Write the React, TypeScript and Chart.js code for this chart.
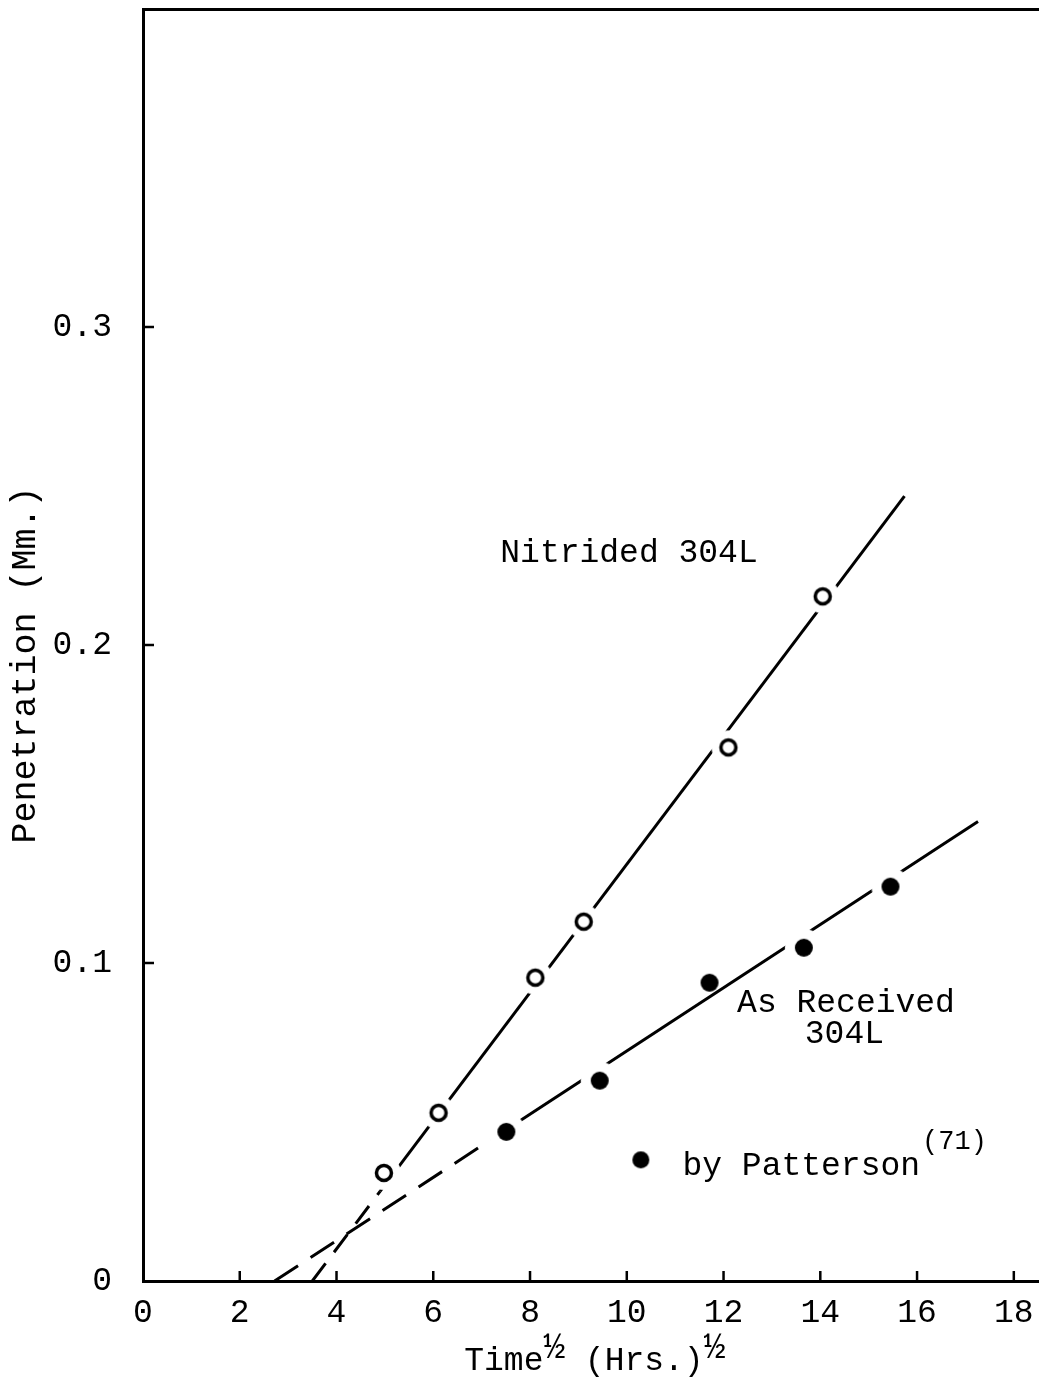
import { useEffect, useRef } from 'react';
import { Chart, registerables } from 'chart.js';

Chart.register(...registerables);

// Measured penetration, nitrided 304L (open circles)
const nitridedX = [4.98, 6.11, 8.11, 9.11, 12.1, 14.05];
const nitridedY = [0.034, 0.0529, 0.0954, 0.113, 0.1678, 0.2153];

// As-received 304L, by Patterson (filled circles)
const asReceivedX = [7.51, 9.44, 11.71, 13.66, 15.45];
const asReceivedY = [0.0469, 0.063, 0.0938, 0.1048, 0.124];

// Drawn-in trend lines: axis intercept, point where the dashes turn solid, end
const nitridedFitX = [3.5, 4.9, 15.74];
const nitridedFitY = [0, 0.0282, 0.2468];
const asReceivedFitX = [2.72, 7.5, 17.26];
const asReceivedFitY = [0, 0.0475, 0.1445];

// Key symbol beside "by Patterson"
const keyMarkerX = [10.29];
const keyMarkerY = [0.0381];

const xTickLabels = ['0', '2', '4', '6', '8', '10', '12', '14', '16', '18'];
const yTickLabels = ['0', '0.1', '0.2', '0.3'];

const MONO = '"Liberation Mono", "DejaVu Sans Mono", monospace';

const pts = (xs: number[], ys: number[]) => xs.map((x, i) => ({ x, y: ys[i] }));

// Marker images: a white halo opens a gap in the trend line around each symbol
function ringMarker(halo: number): HTMLCanvasElement {
  const size = halo * 2 + 2;
  const c = document.createElement('canvas');
  c.width = size;
  c.height = size;
  const g = c.getContext('2d')!;
  const m = size / 2;
  g.fillStyle = '#fff';
  g.beginPath();
  g.arc(m, m, halo, 0, Math.PI * 2);
  g.fill();
  g.strokeStyle = '#000';
  g.lineWidth = 3.5;
  g.beginPath();
  g.arc(m, m, 7.5, 0, Math.PI * 2);
  g.stroke();
  return c;
}

function dotMarker(halo: number, r: number): HTMLCanvasElement {
  const size = Math.max(halo, r) * 2 + 2;
  const c = document.createElement('canvas');
  c.width = size;
  c.height = size;
  const g = c.getContext('2d')!;
  const m = size / 2;
  if (halo > 0) {
    g.fillStyle = '#fff';
    g.beginPath();
    g.arc(m, m, halo, 0, Math.PI * 2);
    g.fill();
  }
  g.fillStyle = '#000';
  g.beginPath();
  g.arc(m, m, r, 0, Math.PI * 2);
  g.fill();
  return c;
}

// Remove the label-overflow padding Chart.js reserves at the ends of each axis
const noEndPadding = (s: any) => {
  s.paddingTop = 0;
  s.paddingBottom = 0;
  s.paddingLeft = 0;
  s.paddingRight = 0;
};

const innerTicks = {
  id: 'innerTicks',
  afterDraw(chart: any) {
    const { ctx, chartArea, scales } = chart;
    ctx.save();
    ctx.strokeStyle = '#000';
    ctx.lineWidth = 2.5;
    scales.x.ticks.forEach((t: any, i: number) => {
      if (!xTickLabels[i] || t.value === 0) return;
      const px = scales.x.getPixelForTick(i);
      ctx.beginPath();
      ctx.moveTo(px, chartArea.bottom);
      ctx.lineTo(px, chartArea.bottom - 10);
      ctx.stroke();
    });
    scales.y.ticks.forEach((t: any, i: number) => {
      if (!yTickLabels[i] || t.value === 0) return;
      const py = scales.y.getPixelForTick(i);
      ctx.beginPath();
      ctx.moveTo(chartArea.left, py);
      ctx.lineTo(chartArea.left + 11, py);
      ctx.stroke();
    });
    ctx.restore();
  },
};

const notes = [
  { text: 'Nitrided 304L', x: 7.385, y: 0.226 },
  { text: 'As Received', x: 12.28, y: 0.0847 },
  { text: '304L', x: 13.68, y: 0.0749 },
];

const textLayer = {
  id: 'textLayer',
  afterDraw(chart: any) {
    const { ctx, chartArea, scales } = chart;
    const sx = scales.x;
    const sy = scales.y;
    ctx.save();
    ctx.fillStyle = '#000';
    ctx.textBaseline = 'alphabetic';
    ctx.textAlign = 'left';

    ctx.font = `33px ${MONO}`;
    notes.forEach((n) => {
      ctx.fillText(n.text, sx.getPixelForValue(n.x), sy.getPixelForValue(n.y));
    });

    // key: "by Patterson" with superscript reference
    const kx = sx.getPixelForValue(11.15);
    const ky = sy.getPixelForValue(0.0334);
    ctx.font = `33px ${MONO}`;
    ctx.fillText('by Patterson', kx, ky);
    const kw = ctx.measureText('by Patterson').width;
    ctx.font = `27px ${MONO}`;
    ctx.fillText('(71)', kx + kw + 2, ky - 26);

    // x-axis title with superscript halves
    let tx = sx.getPixelForValue(6.64);
    const tb = chartArea.bottom + 89;
    const part = (s: string, size: number, dy: number) => {
      ctx.font = `${size}px ${MONO}`;
      ctx.fillText(s, tx, tb + dy);
      tx += ctx.measureText(s).width;
    };
    part('Time', 33, 0);
    part('\u00bd', 36, -12);
    part(' (Hrs.)', 33, 0);
    part('\u00bd', 36, -12);

    // y-axis title
    ctx.save();
    ctx.translate(35, (chartArea.top + chartArea.bottom) / 2 + 20);
    ctx.rotate(-Math.PI / 2);
    ctx.textAlign = 'center';
    ctx.font = `35px ${MONO}`;
    ctx.fillText('Penetration (Mm.)', 0, 0);
    ctx.restore();

    ctx.restore();
  },
};

export default function App() {
  const canvasRef = useRef<HTMLCanvasElement | null>(null);

  useEffect(() => {
    const canvas = canvasRef.current;
    if (!canvas) return;

    const ring = ringMarker(17);
    const dot = dotMarker(19, 9);
    const bareDot = dotMarker(0, 9);
    const keyDot = dotMarker(0, 8.5);

    const chart = new Chart(canvas, {
      type: 'scatter',
      data: {
        datasets: [
          {
            label: 'Nitrided 304L',
            data: pts(nitridedX, nitridedY),
            pointStyle: ring as any,
            order: 1,
          },
          {
            label: 'As Received 304L',
            data: pts(asReceivedX, asReceivedY),
            pointStyle: [dot, dot, bareDot, dot, dot] as any,
            order: 1,
          },
          {
            label: 'key',
            data: pts(keyMarkerX, keyMarkerY),
            pointStyle: keyDot as any,
            order: 1,
          },
          {
            label: 'Nitrided trend',
            data: pts(nitridedFitX, nitridedFitY),
            showLine: true,
            pointRadius: 0,
            borderColor: '#000',
            borderWidth: 3,
            segment: {
              borderDash: (ctx: any) => (ctx.p0DataIndex === 0 ? [22, 14] : undefined),
            },
            order: 2,
          },
          {
            label: 'As Received trend',
            data: pts(asReceivedFitX, asReceivedFitY),
            showLine: true,
            pointRadius: 0,
            borderColor: '#000',
            borderWidth: 3,
            segment: {
              borderDash: (ctx: any) => (ctx.p0DataIndex === 0 ? [28, 15] : undefined),
            },
            order: 2,
          },
        ],
      },
      options: {
        responsive: false,
        animation: false,
        layout: { padding: 0 },
        plugins: {
          legend: { display: false },
          tooltip: { enabled: false },
          title: { display: false },
        },
        scales: {
          x: {
            type: 'linear',
            position: 'bottom',
            min: 0,
            max: 18.5,
            afterFit: (s: any) => {
              s.height = 103;
              noEndPadding(s);
            },
            grid: { display: false, drawTicks: false },
            border: { display: true, color: '#000', width: 3 },
            ticks: {
              stepSize: 2,
              includeBounds: false,
              autoSkip: false,
              maxRotation: 0,
              padding: 12,
              color: '#000',
              font: { family: MONO, size: 33 },
              callback: (_v: any, i: number) => xTickLabels[i] ?? '',
            },
          },
          xTop: {
            type: 'linear',
            position: 'top',
            display: true,
            min: 0,
            max: 18.5,
            afterFit: (s: any) => {
              s.height = 9;
              noEndPadding(s);
            },
            grid: { display: false, drawTicks: false },
            border: { display: true, color: '#000', width: 3 },
            ticks: { display: false },
          },
          y: {
            type: 'linear',
            min: 0,
            max: 0.4,
            afterFit: (s: any) => {
              s.width = 143;
              noEndPadding(s);
            },
            grid: { display: false, drawTicks: false },
            border: { display: true, color: '#000', width: 3 },
            ticks: {
              stepSize: 0.1,
              includeBounds: false,
              autoSkip: false,
              padding: 31,
              color: '#000',
              font: { family: MONO, size: 33 },
              callback: (_v: any, i: number) => yTickLabels[i] ?? '',
            },
          },
        },
      } as any,
      plugins: [innerTicks, textLayer],
    });

    return () => chart.destroy();
  }, []);

  return (
    <div
      style={{
        position: 'absolute',
        left: 0,
        top: 0,
        width: 1043,
        height: 1384,
        background: '#fff',
      }}
    >
      <canvas ref={canvasRef} width={1043} height={1384} style={{ display: 'block' }} />
    </div>
  );
}
